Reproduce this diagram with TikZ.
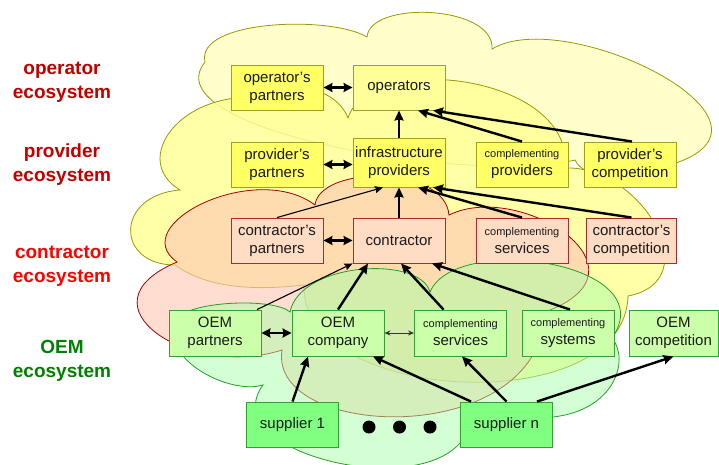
\documentclass[tikz,border=0pt]{standalone}
\usepackage{fontspec}
\setmainfont{Liberation Sans}
\usetikzlibrary{arrows.meta}
\definecolor{cPale}{HTML}{FFFFCC}
\definecolor{cProv}{HTML}{FFFF99}
\definecolor{cCont}{HTML}{FFC9B4}
\definecolor{cOEM}{HTML}{A9FFA9}
\definecolor{cOlive}{HTML}{999900}
\definecolor{cRedLine}{HTML}{A00000}
\definecolor{cGrnLine}{HTML}{22A022}
\definecolor{cYel}{HTML}{FFFF66}
\definecolor{cYelL}{HTML}{FFFF99}
\definecolor{cYelB}{HTML}{A0A020}
\definecolor{cRed}{HTML}{FFDCC4}
\definecolor{cRedB}{HTML}{B02828}
\definecolor{cGrn}{HTML}{CCFFAA}
\definecolor{cGrnB}{HTML}{33A033}
\definecolor{cSup}{HTML}{80FF80}
\definecolor{cTxt}{HTML}{1A1A1A}
\definecolor{cDk}{HTML}{333333}
\definecolor{cLabRed}{HTML}{C00000}
\definecolor{cLabBright}{HTML}{FF0000}
\definecolor{cLabGrn}{HTML}{008000}
\tikzset{
 box/.style={draw, line width=0.9pt, minimum width=92pt, minimum height=45pt, inner sep=0pt, align=center, text=cTxt, font=\fontsize{15}{18}\selectfont},
 ybox/.style={box, fill=cYel, draw=cYelB},
 rbox/.style={box, fill=cRed, draw=cRedB},
 gbox/.style={box, fill=cGrn, draw=cGrnB},
 sbox/.style={box, fill=cSup, draw=cGrnB},
 lab/.style={align=center, font=\fontsize{19}{24}\selectfont\bfseries},
 arr/.style={line width=2.4pt, -{Stealth[length=10pt,width=9pt,inset=1pt]}},
 darr/.style={line width=2.4pt, {Stealth[length=9pt,width=9pt,inset=1pt]}-{Stealth[length=9pt,width=9pt,inset=1pt]}},
 tarr/.style={line width=1.1pt, -{Stealth[length=8pt,width=7pt,inset=1pt]}},
 tdarr/.style={line width=1pt, draw=cDk, {Stealth[length=6pt,width=5pt]}-{Stealth[length=6pt,width=5pt]}},
 cloudline/.style={line width=0.8pt},
 dot/.style={circle, fill=black, minimum size=13pt, inner sep=0pt},
}
\newcommand\smallword[1]{{\fontsize{11}{13}\selectfont #1}}
\begin{document}
\begin{tikzpicture}[x=1pt,y=-1pt]
\useasboundingbox (0,0) rectangle (719,464);
\begin{scope}
\clip (0,0) rectangle (719,464);
% operator cloud
\filldraw[cloudline, fill=cPale, draw=cOlive]
 (205,62) .. controls (195,20) and (330,15) .. (367,37)
 .. controls (370,0) and (495,5) .. (492,49)
 .. controls (565,5) and (800,120) .. (676,163)
 .. controls (670,185) and (585,185) .. (575,160)
 .. controls (470,185) and (150,130) .. (205,62) -- cycle;
% provider cloud
\filldraw[cloudline, fill=cProv, fill opacity=0.85, draw=cOlive]
 (180,190) .. controls (130,160) and (180,90) .. (262,98)
 .. controls (285,80) and (335,85) .. (348,118)
 .. controls (370,50) and (575,75) .. (565,168)
 .. controls (640,165) and (710,280) .. (628,296)
 .. controls (625,420) and (300,405) .. (304,285)
 .. controls (260,290) and (210,290) .. (175,265)
 .. controls (115,265) and (115,195) .. (180,190) -- cycle;
% contractor cloud
\filldraw[cloudline, fill=cCont, fill opacity=0.63, draw=cRedLine]
 (177,262) .. controls (125,225) and (255,160) .. (315,205)
 .. controls (320,165) and (445,165) .. (449,215)
 .. controls (520,180) and (660,270) .. (545,312)
 .. controls (540,450) and (268,440) .. (282,350)
 .. controls (190,380) and (75,305) .. (177,262) -- cycle;
% OEM cloud
\filldraw[cloudline, fill=cOEM, fill opacity=0.5, draw=cGrnLine]
 (263,385) .. controls (230,395) and (160,360) .. (175,320)
 .. controls (190,300) and (275,298) .. (290,312)
 .. controls (300,262) and (420,255) .. (430,292)
 .. controls (455,232) and (665,262) .. (612,338)
 .. controls (630,360) and (615,410) .. (553,417)
 .. controls (540,440) and (480,450) .. (460,443)
 .. controls (410,500) and (215,450) .. (263,385) -- cycle;
\end{scope}

% labels
\node[lab, text=cLabRed] (l1) at (62,82) {operator\\ecosystem};
\node[lab, text=cLabRed] (l2) at (62,165) {provider\\ecosystem};
\node[lab, text=cLabBright] (l3) at (62,266) {contractor\\ecosystem};
\node[lab, text=cLabGrn] (l4) at (62,361) {OEM\\ecosystem};

% boxes
\node[ybox] (opp) at (277,87.5) {operator’s\\partners};
\node[ybox, fill=cYelL] (ops) at (399,87.5) {operators};
\node[ybox] (pp) at (277,164.5) {provider’s\\partners};
\node[ybox, minimum height=49pt] (ip) at (399,162.5) {infrastructure\\providers};
\node[ybox] (cp) at (522,164.5) {\smallword{complementing}\\providers};
\node[ybox] (pc) at (630,164.5) {provider's\\competition};
\node[rbox] (cop) at (277,240.5) {contractor’s\\partners};
\node[rbox] (con) at (399,240.5) {contractor};
\node[rbox] (cs) at (522,240.5) {\smallword{complementing}\\services};
\node[rbox, minimum width=90pt] (cc) at (631.5,240.5) {contractor’s\\competition};
\node[gbox, minimum height=46pt] (oemp) at (215,333) {OEM\\partners};
\node[gbox, minimum height=46pt] (oemc) at (338,333) {OEM\\company};
\node[gbox, minimum height=46pt] (csg) at (460.5,333) {\smallword{complementing}\\services};
\node[gbox, minimum height=46pt] (csys) at (568,333) {\smallword{complementing}\\systems};
\node[gbox, minimum height=46pt, minimum width=89pt] (oemx) at (673.5,333) {OEM\\competition};
\node[sbox] (s1) at (292.5,424.5) {supplier 1};
\node[sbox] (sn) at (506.5,424.5) {supplier n};
\node[dot] (d1) at (369,427) {};
\node[dot] (d2) at (399.5,427) {};
\node[dot] (d3) at (430,427) {};

% connectors
\draw[darr] (opp.east) -- (ops.west);
\draw[darr] (pp.east) -- (pp.east -| ip.west);
\draw[arr] (ip.north) -- (ops.south);
\draw[arr] (cp.north) -- ([xshift=19pt]ops.south);
\draw[arr] ([xshift=2pt]pc.north) -- ([xshift=34pt]ops.south);
\draw[darr] (cop.east) -- (con.west);
\draw[arr] (con.north) -- (ip.south);
\draw[tarr] (cop.north) -- ([xshift=-16pt]ip.south);
\draw[arr] (cs.north) -- ([xshift=19pt]ip.south);
\draw[arr] (cc.north) -- ([xshift=34pt]ip.south);
\draw[darr] (oemp.east) -- (oemc.west);
\draw[tdarr] (oemc.east) -- (csg.west);
\draw[tarr] ([xshift=42pt]oemp.north) -- (con.south west);
\draw[arr] (oemc.north) -- ([xshift=-31pt]con.south);
\draw[arr] ([xshift=-17pt]csg.north) -- ([xshift=2pt]con.south);
\draw[arr] ([xshift=2pt]csys.north) -- ([xshift=33pt]con.south);
\draw[arr] (s1.north) -- ([xshift=-30pt]oemc.south);
\draw[arr] ([xshift=-35.5pt]sn.north) -- ([xshift=35pt]oemc.south);
\draw[arr] (sn.north) -- ([xshift=1.5pt]csg.south);
\draw[arr] ([xshift=30.5pt]sn.north) -- (oemx.south);
\end{tikzpicture}
\end{document}
